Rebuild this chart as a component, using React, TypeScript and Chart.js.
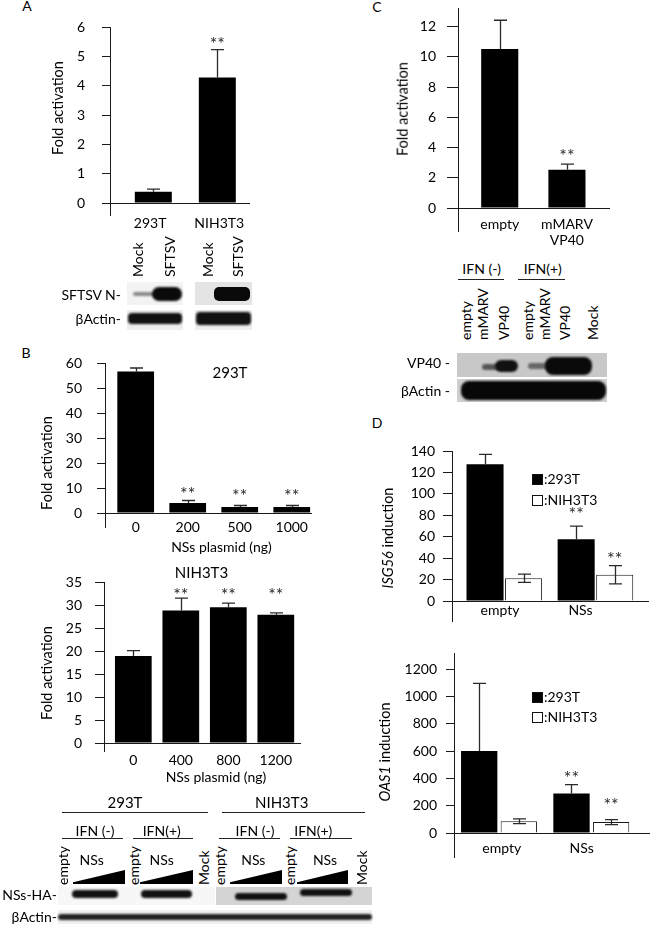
import React, { useEffect, useRef } from 'react';
import { Chart, registerables } from 'chart.js';

Chart.register(...registerables);

const FONT = 'Lato, "Open Sans", "DejaVu Sans", sans-serif';
const AXIS = '#1a1a1a';
Chart.defaults.font.family = FONT;

// ---------- Panel A ----------
const aCategories = ['293T', 'NIH3T3'];
const aValues = [0.38, 4.28];
const aErrors = [0.09, 0.95];
const aStars = ['', '**'];
const aTicks = [0, 1, 2, 3, 4, 5, 6];

// ---------- Panel B, 293T ----------
const b1Categories = ['0', '200', '500', '1000'];
const b1Values = [56.6, 4.0, 2.4, 2.4];
const b1Errors = [1.4, 1.0, 0.6, 0.6];
const b1Stars = ['', '**', '**', '**'];
const b1Ticks = [0, 10, 20, 30, 40, 50, 60];

// ---------- Panel B, NIH3T3 ----------
const b2Categories = ['0', '400', '800', '1200'];
const b2Values = [18.9, 28.8, 29.5, 27.9];
const b2Errors = [1.2, 2.7, 0.9, 0.4];
const b2Stars = ['', '**', '**', '**'];
const b2Ticks = [0, 5, 10, 15, 20, 25, 30, 35];

// ---------- Panel C ----------
const cCategories = [['empty'], ['mMARV', 'VP40']];
const cValues = [10.53, 2.54];
const cErrors = [1.9, 0.37];
const cStars = ['', '**'];
const cTicks = [0, 2, 4, 6, 8, 10, 12];

// ---------- Panel D ----------
const dCategories = ['empty', 'NSs'];
const dSeries = ['293T', 'NIH3T3'];
const d1Values293T = [127.6, 57.7];
const d1Errors293T = [9.3, 12.2];
const d1ValuesNIH = [21.2, 24.5];
const d1ErrorsNIH = [3.9, 8.5];
const d1Stars293T = ['', '**'];
const d1StarsNIH = ['', '**'];
const d1Ticks = [0, 20, 40, 60, 80, 100, 120, 140];

const d2Values293T = [602, 289];
const d2Errors293T = [495, 66];
const d2ValuesNIH = [86, 80];
const d2ErrorsNIH = [17, 18];
const d2Stars293T = ['', '**'];
const d2StarsNIH = ['', '**'];
const d2Ticks = [0, 200, 400, 600, 800, 1000, 1200];

interface SeriesSpec {
  values: number[];
  errors: number[];
  stars: string[];
  starAt: number[];
  fill: string;
  border?: string;
  twoSided?: boolean;
}
interface PanelSpec {
  categories: any[];
  series: SeriesSpec[];
  yTicks: number[];
  yMax: number;
  xMin: number;
  xMax: number;
  axisX: number;
  plotTop: number;
  plotBottom: number;
  plotRight: number;
  tickLen: number;
  tickPad: number;
  labelPad: number;
  ext: number;
  catPct: number;
  barPct: number;
  labelAt?: number[];
}

const specA: PanelSpec = {
  categories: aCategories,
  series: [{ values: aValues, errors: aErrors, stars: aStars, starAt: [0, 5.55], fill: '#000' }],
  yTicks: aTicks, yMax: 6, xMin: 0.3234, xMax: 2.495,
  axisX: 110, plotTop: 27, plotBottom: 203, plotRight: 249,
  tickLen: 8, tickPad: 17, labelPad: 12.5, ext: 13, catPct: 1, barPct: 0.578,
  labelAt: [0.95, 2.03],
};
const specB1: PanelSpec = {
  categories: b1Categories,
  series: [{ values: b1Values, errors: b1Errors, stars: b1Stars, starAt: [0, 9.3, 8.4, 8.4], fill: '#000' }],
  yTicks: b1Ticks, yMax: 60, xMin: 0.41, xMax: 4.37,
  axisX: 105, plotTop: 363, plotBottom: 513, plotRight: 311,
  tickLen: 8, tickPad: 15, labelPad: 6, ext: 15, catPct: 1, barPct: 0.706,
};
const specB2: PanelSpec = {
  categories: b2Categories,
  series: [{ values: b2Values, errors: b2Errors, stars: b2Stars, starAt: [0, 33, 33, 33], fill: '#000' }],
  yTicks: b2Ticks, yMax: 35, xMin: 0.383, xMax: 4.509,
  axisX: 104, plotTop: 582, plotBottom: 743, plotRight: 300,
  tickLen: 9, tickPad: 13, labelPad: 9.3, ext: 9, catPct: 1, barPct: 0.773,
};
const specC: PanelSpec = {
  categories: cCategories,
  series: [{ values: cValues, errors: cErrors, stars: cStars, starAt: [0, 3.68], fill: '#000' }],
  yTicks: cTicks, yMax: 13.24, xMin: 0.379, xMax: 2.626,
  axisX: 458, plotTop: 8, plotBottom: 208, plotRight: 609,
  tickLen: 11, tickPad: 11, labelPad: 7.6, ext: 24, catPct: 1, barPct: 0.552,
};
const specD1: PanelSpec = {
  categories: dCategories,
  series: [
    { values: d1Values293T, errors: d1Errors293T, stars: d1Stars293T, starAt: [0, 84.8], fill: '#000' },
    { values: d1ValuesNIH, errors: d1ErrorsNIH, stars: d1StarsNIH, starAt: [0, 42.8], fill: '#fff', border: '#1a1a1a', twoSided: true },
  ],
  yTicks: d1Ticks, yMax: 140, xMin: 0.426, xMax: 2.577,
  axisX: 452, plotTop: 451, plotBottom: 601, plotRight: 648,
  tickLen: 9, tickPad: 8, labelPad: 0.6, ext: 21, catPct: 0.846, barPct: 0.961,
  labelAt: [0.953, 1.836],
};
const specD2: PanelSpec = {
  categories: dCategories,
  series: [
    { values: d2Values293T, errors: d2Errors293T, stars: d2Stars293T, starAt: [0, 431], fill: '#000' },
    { values: d2ValuesNIH, errors: d2ErrorsNIH, stars: d2StarsNIH, starAt: [0, 235], fill: '#fff', border: '#1a1a1a', twoSided: true },
  ],
  yTicks: d2Ticks, yMax: 1319.6, xMin: 0.5125, xMax: 2.636,
  axisX: 454, plotTop: 653, plotBottom: 833, plotRight: 650,
  tickLen: 8, tickPad: 9, labelPad: 6.9, ext: 25, catPct: 0.858, barPct: 0.917,
  labelAt: [1.03, 1.896],
};

const Y_W = 70;
const PAD_T = 40;
const PAD_R = 12;
const XL_H = 50;

function BarPanel({ spec, label }: { spec: PanelSpec; label: string }) {
  const ref = useRef<HTMLCanvasElement>(null);
  const left = spec.axisX - Y_W;
  const top = spec.plotTop - PAD_T;
  const width = spec.plotRight - left + PAD_R;
  const height = spec.plotBottom - top + XL_H;

  useEffect(() => {
    const idx = spec.categories.map((_: any, i: number) => i + 1);
    const labelAt = spec.labelAt ?? idx;
    const annot = {
      id: 'annot' + label,
      afterDatasetsDraw(chart: any) {
        const ctx = chart.ctx;
        const ys = chart.scales.y;
        const ca = chart.chartArea;
        ctx.save();
        // y axis continues below the x axis
        const ax = Math.round(ca.left - 0.5) + 0.5;
        ctx.strokeStyle = AXIS;
        ctx.lineWidth = 1;
        ctx.beginPath();
        ctx.moveTo(ax, ca.bottom);
        ctx.lineTo(ax, ca.bottom + spec.ext);
        ctx.stroke();
        spec.series.forEach((s, di) => {
          const meta = chart.getDatasetMeta(di);
          meta.data.forEach((bar: any, i: number) => {
            const v = s.values[i];
            const e = s.errors[i];
            const x = Math.round(bar.x) + 0.5;
            const cap = 6.5;
            ctx.strokeStyle = '#2a2a2a';
            ctx.lineWidth = 1.3;
            const yt = ys.getPixelForValue(v + e);
            const yb = s.twoSided ? ys.getPixelForValue(v - e) : ys.getPixelForValue(v);
            ctx.beginPath();
            ctx.moveTo(x, yb);
            ctx.lineTo(x, yt);
            ctx.moveTo(x - cap, yt);
            ctx.lineTo(x + cap, yt);
            if (s.twoSided) {
              ctx.moveTo(x - cap, yb);
              ctx.lineTo(x + cap, yb);
            }
            ctx.stroke();
            if (s.stars[i]) {
              ctx.fillStyle = '#2a2a2a';
              ctx.font = '18px ' + FONT;
              ctx.textAlign = 'center';
              ctx.textBaseline = 'alphabetic';
              ctx.fillText(s.stars[i], bar.x, ys.getPixelForValue(s.starAt[i]) + 10);
            }
          });
        });
        ctx.restore();
      },
    };

    const chart = new Chart(ref.current as HTMLCanvasElement, {
      type: 'bar',
      data: {
        datasets: spec.series.map((s) => ({
          data: s.values.map((v, i) => ({ x: i + 1, y: v })),
          backgroundColor: s.fill,
          borderColor: s.border ?? s.fill,
          borderWidth: s.border ? 1 : 0,
          categoryPercentage: spec.catPct,
          barPercentage: spec.barPct,
        })),
      },
      options: {
        animation: false,
        responsive: false,
        events: [],
        layout: { padding: { left: 0, top: PAD_T, right: PAD_R, bottom: 0 } },
        plugins: { legend: { display: false }, tooltip: { enabled: false } },
        scales: {
          x: {
            type: 'linear',
            position: 'bottom',
            offset: false,
            weight: 0,
            min: spec.xMin,
            max: spec.xMax,
            afterBuildTicks: (s: any) => {
              s.ticks = idx.map((v: number) => ({ value: v }));
            },
            afterFit: (s: any) => {
              s.height = 0;
            },
            grid: { display: false, drawTicks: false, offset: false },
            border: { display: true, color: AXIS, width: 1 },
            ticks: { display: false },
          },
          xl: {
            type: 'linear',
            position: 'bottom',
            offset: false,
            weight: 1,
            min: spec.xMin,
            max: spec.xMax,
            afterBuildTicks: (s: any) => {
              s.ticks = labelAt.map((v: number) => ({ value: v }));
            },
            afterFit: (s: any) => {
              s.height = XL_H;
            },
            grid: { display: false, drawTicks: false, offset: false },
            border: { display: false },
            ticks: {
              autoSkip: false,
              maxRotation: 0,
              minRotation: 0,
              padding: spec.labelPad,
              color: '#000',
              font: { family: FONT, size: 14 },
              callback: (_v: any, i: number) => spec.categories[i],
            },
          },
          y: {
            type: 'linear',
            position: 'left',
            min: 0,
            max: spec.yMax,
            afterBuildTicks: (s: any) => {
              s.ticks = spec.yTicks.map((v) => ({ value: v }));
            },
            afterFit: (s: any) => {
              s.width = Y_W;
            },
            grid: { drawOnChartArea: false, drawTicks: true, tickLength: spec.tickLen, color: AXIS, lineWidth: 1 },
            border: { display: true, color: AXIS, width: 1 },
            ticks: {
              padding: spec.tickPad,
              color: '#000',
              font: { family: FONT, size: 14 },
              callback: (v: any) => String(v),
            },
          },
        },
      } as any,
      plugins: [annot],
    });
    return () => chart.destroy();
  }, [spec, label]);

  return (
    <canvas
      ref={ref}
      width={width}
      height={height}
      style={{ position: 'absolute', left, top, width, height }}
    />
  );
}

const base: React.CSSProperties = {
  position: 'absolute',
  whiteSpace: 'nowrap',
  fontFamily: FONT,
  color: '#000',
  lineHeight: 1.15,
};

function Txt({ x, y, size = 14, children }: any) {
  return <div style={{ ...base, left: x, top: y, fontSize: size, transform: 'translate(-50%,-50%)' }}>{children}</div>;
}
function RTxt({ x, y, size = 14, children }: any) {
  return <div style={{ ...base, left: x, top: y, fontSize: size, transform: 'translate(-100%,-50%)' }}>{children}</div>;
}
function VTxt({ x, y, size = 14.5, children }: any) {
  return <div style={{ ...base, left: x, top: y, fontSize: size, transform: 'translate(-50%,-50%) rotate(-90deg)' }}>{children}</div>;
}
function VUp({ x, y, size = 14, children }: any) {
  return (
    <div style={{ ...base, left: x, top: y, fontSize: size, transformOrigin: '0 0', transform: 'rotate(-90deg) translateY(-50%)' }}>
      {children}
    </div>
  );
}
function Rect({ x, y, w, h, bg, r = 0, blur = 0 }: any) {
  return (
    <div
      style={{
        position: 'absolute', left: x, top: y, width: w, height: h, background: bg,
        borderRadius: r, filter: blur ? `blur(${blur}px)` : undefined,
      }}
    />
  );
}
function HLine({ x1, x2, y }: any) {
  return <div style={{ position: 'absolute', left: x1, top: y, width: x2 - x1, height: 1, background: '#222' }} />;
}
function Wedge({ x1, x2, yTop, yBot }: any) {
  return (
    <div
      style={{
        position: 'absolute', left: x1, top: yTop, width: x2 - x1, height: yBot - yTop, background: '#000',
        clipPath: 'polygon(0 88%, 100% 0, 100% 100%, 0 100%)',
      }}
    />
  );
}
function LegendBox({ x, y, fill, text }: any) {
  return (
    <>
      <div style={{ position: 'absolute', left: x, top: y - 5, width: 11, height: 11, background: fill, border: '1px solid #111', boxSizing: 'border-box' }} />
      <div style={{ ...base, left: x + 12, top: y, fontSize: 14, transform: 'translateY(-50%)' }}>{text}</div>
    </>
  );
}

export default function App() {
  return (
    <div style={{ position: 'absolute', left: 0, top: 0, width: 650, height: 929, overflow: 'hidden', background: '#fff' }}>
      {/* panel letters */}
      <Txt x={27} y={6}>A</Txt>
      <Txt x={26} y={353}>B</Txt>
      <Txt x={377} y={7}>C</Txt>
      <Txt x={377} y={423}>D</Txt>

      {/* charts */}
      <BarPanel spec={specA} label="A" />
      <BarPanel spec={specB1} label="B1" />
      <BarPanel spec={specB2} label="B2" />
      <BarPanel spec={specC} label="C" />
      <BarPanel spec={specD1} label="D1" />
      <BarPanel spec={specD2} label="D2" />

      {/* axis titles */}
      <VTxt x={57.5} y={108}>Fold activation</VTxt>
      <VTxt x={47} y={463}>Fold activation</VTxt>
      <VTxt x={47} y={673}>Fold activation</VTxt>
      <VTxt x={402.5} y={109}>Fold activation</VTxt>
      <VTxt x={388} y={538}><i>ISG56</i> induction</VTxt>
      <VTxt x={385} y={752}><i>OAS1</i> induction</VTxt>
      <Txt x={230} y={373} size={15}>293T</Txt>
      <Txt x={201.5} y={573} size={15}>NIH3T3</Txt>
      <Txt x={221.5} y={547}>NSs plasmid (ng)</Txt>
      <Txt x={216} y={777}>NSs plasmid (ng)</Txt>

      {/* legends D */}
      <LegendBox x={532} y={479} fill="#000" text={':' + dSeries[0]} />
      <LegendBox x={532} y={500} fill="#fff" text={':' + dSeries[1]} />
      <LegendBox x={532} y={697} fill="#000" text={':' + dSeries[0]} />
      <LegendBox x={532} y={717} fill="#fff" text={':' + dSeries[1]} />

      {/* Panel A blot */}
      <VUp x={138} y={277}>Mock</VUp>
      <VUp x={170} y={277}>SFTSV</VUp>
      <VUp x={207.5} y={277}>Mock</VUp>
      <VUp x={237.5} y={277}>SFTSV</VUp>
      <Rect x={127} y={282} w={56} h={23} bg="#f3f3f3" />
      <Rect x={133} y={292} w={26} h={4} bg="#8a8a8a" r={2} blur={1} />
      <Rect x={152} y={287} w={30} h={14} bg="#0a0a0a" r={7} blur={0.8} />
      <Rect x={127} y={310} w={56} h={20} bg="#eeeeee" />
      <Rect x={128} y={313} w={54} h={11} bg="#111" r={4} blur={0.8} />
      <Rect x={195} y={282} w={57} h={23} bg="#e4e4e4" />
      <Rect x={214} y={287} w={36} h={14} bg="#0a0a0a" r={5} blur={0.6} />
      <Rect x={195} y={310} w={57} h={20} bg="#eeeeee" />
      <Rect x={196} y={312} w={55} h={13} bg="#111" r={4} blur={0.8} />
      <RTxt x={121} y={295}>SFTSV N-</RTxt>
      <RTxt x={121} y={319}>βActin-</RTxt>

      {/* Panel C blot */}
      <Txt x={481.7} y={269}>IFN (-)</Txt>
      <HLine x1={458} x2={504} y={279} />
      <Txt x={542.7} y={269}>IFN(+)</Txt>
      <HLine x1={518} x2={565} y={279} />
      <VUp x={465.7} y={340}>empty</VUp>
      <VUp x={483.3} y={340}>mMARV</VUp>
      <VUp x={504} y={340}>VP40</VUp>
      <VUp x={527.7} y={340}>empty</VUp>
      <VUp x={545} y={340}>mMARV</VUp>
      <VUp x={565} y={340}>VP40</VUp>
      <VUp x={592.7} y={340}>Mock</VUp>
      <Rect x={457} y={353} w={150} h={24} bg="#c8c8c8" />
      <Rect x={482} y={364} w={20} h={6} bg="#555" r={3} blur={1} />
      <Rect x={495} y={360} w={23} h={12} bg="#111" r={6} blur={0.8} />
      <Rect x={528} y={363} w={22} h={6} bg="#666" r={3} blur={1} />
      <Rect x={545} y={357} w={47} h={18} bg="#0a0a0a" r={8} blur={0.8} />
      <Rect x={457} y={379} w={150} h={23} bg="#cfcfcf" />
      <Rect x={461} y={381} w={145} h={19} bg="#080808" r={8} blur={0.8} />
      <RTxt x={450} y={363}>VP40 -</RTxt>
      <RTxt x={450} y={391}>βActin -</RTxt>

      {/* Panel B blot */}
      <Txt x={125} y={803} size={15}>293T</Txt>
      <HLine x1={62} x2={208} y={812} />
      <Txt x={281.7} y={803} size={15}>NIH3T3</Txt>
      <HLine x1={222} x2={365} y={812} />
      <Txt x={95} y={830.5}>IFN (-)</Txt>
      <HLine x1={62} x2={123} y={838} />
      <Txt x={161.7} y={830.5}>IFN(+)</Txt>
      <HLine x1={133} x2={193} y={838} />
      <Txt x={255} y={830.5}>IFN (-)</Txt>
      <HLine x1={219} x2={280} y={838} />
      <Txt x={313.3} y={830.5}>IFN(+)</Txt>
      <HLine x1={290} x2={352} y={838} />
      <VUp x={63.3} y={885}>empty</VUp>
      <VUp x={134.3} y={885}>empty</VUp>
      <VUp x={204} y={885}>Mock</VUp>
      <VUp x={220} y={885}>empty</VUp>
      <VUp x={290} y={885}>empty</VUp>
      <VUp x={361.7} y={885}>Mock</VUp>
      <Txt x={91.7} y={860}>NSs</Txt>
      <Txt x={161.7} y={860}>NSs</Txt>
      <Txt x={253.3} y={860}>NSs</Txt>
      <Txt x={325} y={860}>NSs</Txt>
      <Wedge x1={73} x2={125} yTop={870} yBot={884} />
      <Wedge x1={140} x2={193} yTop={870} yBot={884} />
      <Wedge x1={230} x2={282} yTop={870} yBot={884} />
      <Wedge x1={297} x2={348} yTop={870} yBot={884} />
      <Rect x={58} y={887} w={157} h={18} bg="#f7f7f7" />
      <Rect x={72} y={890} w={46} h={8} bg="#111" r={4} blur={0.8} />
      <Rect x={141} y={890} w={51} h={8} bg="#111" r={4} blur={0.8} />
      <Rect x={216} y={887} w={156} h={18} bg="#d4d4d4" />
      <Rect x={235} y={893} w={52} h={7} bg="#111" r={4} blur={0.8} />
      <Rect x={300} y={889} w={52} h={7} bg="#111" r={4} blur={0.8} />
      <Rect x={58} y={910} w={314} h={14} bg="#f0f0f0" />
      <Rect x={58} y={914} w={314} h={6} bg="#222" r={3} blur={0.8} />
      <RTxt x={57} y={895}>NSs-HA-</RTxt>
      <RTxt x={57} y={917}>βActin-</RTxt>
    </div>
  );
}
